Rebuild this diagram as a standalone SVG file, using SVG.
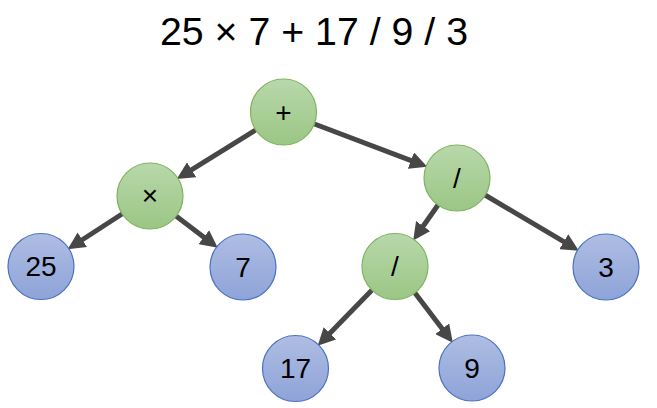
<svg xmlns="http://www.w3.org/2000/svg" width="657" height="408" viewBox="0 0 657 408">
<defs>
<linearGradient id="gg" x1="0" y1="0" x2="0" y2="1"><stop offset="0" stop-color="#b8d8aa"/><stop offset="1" stop-color="#9bc685"/></linearGradient>
<linearGradient id="bg" x1="0" y1="0" x2="0" y2="1"><stop offset="0" stop-color="#aebde3"/><stop offset="1" stop-color="#8ea3d8"/></linearGradient>
<marker id="ah" viewBox="0 0 10 10" refX="5" refY="5" markerWidth="3.5" markerHeight="3.5" orient="auto" markerUnits="strokeWidth"><path d="M0,0 L10,5 L0,10 z" fill="#474747"/></marker>
</defs>
<style>
.g{fill:url(#gg);stroke:#7fb35f;stroke-width:1.2}
.b{fill:url(#bg);stroke:#4a72c0;stroke-width:1.2}
.t{font-family:"Liberation Sans",Arial,sans-serif;font-size:28px;fill:#000;text-anchor:middle;dominant-baseline:central}
.e{stroke:#474747;stroke-width:5;fill:none;marker-end:url(#ah)}
</style>
<rect width="657" height="408" fill="#fff"/>
<text x="314" y="45" font-family="Liberation Sans,Arial,sans-serif" font-size="38" text-anchor="middle" textLength="308" lengthAdjust="spacingAndGlyphs">25 × 7 + 17 / 9 / 3</text>
<g id="connectors">
<line class="e" x1="255.5" y1="130" x2="184.2" y2="174.4"/>
<line class="e" x1="314.5" y1="124" x2="419.1" y2="163.6"/>
<line class="e" x1="122" y1="214" x2="75" y2="244.5"/>
<line class="e" x1="176" y1="216" x2="210.8" y2="242.4"/>
<line class="e" x1="438" y1="205" x2="418.2" y2="233.3"/>
<line class="e" x1="485" y1="195" x2="571.3" y2="246.2"/>
<line class="e" x1="372" y1="290" x2="323.8" y2="339.5"/>
<line class="e" x1="415" y1="293" x2="447.5" y2="335.7"/>
</g>
<g id="plus"><circle class="g" cx="283.5" cy="112" r="33"/><text class="t" x="283.5" y="112">+</text></g>
<g id="times"><circle class="g" cx="150" cy="196" r="33"/><text class="t" x="150" y="195">×</text></g>
<g id="div1"><circle class="g" cx="457" cy="178" r="33"/><text class="t" x="457" y="178">/</text></g>
<g id="div2"><circle class="g" cx="395" cy="266.5" r="33"/><text class="t" x="395" y="266.5">/</text></g>
<g id="n25"><circle class="b" cx="41" cy="266.5" r="33"/><text class="t" x="41" y="266.5">25</text></g>
<g id="n7"><circle class="b" cx="243" cy="267" r="33"/><text class="t" x="243" y="267">7</text></g>
<g id="n3"><circle class="b" cx="606" cy="267" r="33"/><text class="t" x="606" y="267">3</text></g>
<g id="n17"><circle class="b" cx="295.5" cy="368.5" r="33"/><text class="t" x="295.5" y="368.5">17</text></g>
<g id="n9"><circle class="b" cx="472" cy="368" r="33"/><text class="t" x="472" y="368">9</text></g>
</svg>
